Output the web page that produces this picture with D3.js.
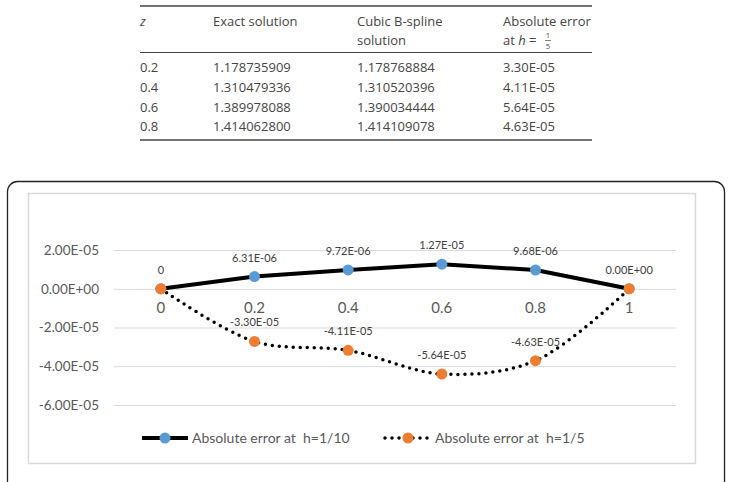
<!DOCTYPE html>
<html>
<head>
<meta charset="utf-8">
<script src="https://cdn.jsdelivr.net/npm/d3@7"></script>
<style>
  body { margin: 0; background: #fff; }
  text { white-space: pre; }
</style>
</head>
<body>
<div id="graph"></div>
<script>
// table data
const tableZ = ["0.2", "0.4", "0.6", "0.8"];
const exactSol = ["1.178735909", "1.310479336", "1.389978088", "1.414062800"];
const splineSol = ["1.178768884", "1.310520396", "1.390034444", "1.414109078"];
const absErr = ["3.30E-05", "4.11E-05", "5.64E-05", "4.63E-05"];

// chart data
const categories = ["0", "0.2", "0.4", "0.6", "0.8", "1"];
const errH10 = [0, 6.31e-6, 9.72e-6, 1.27e-5, 9.68e-6, 0];
const errH5 = [0, -2.72e-5, -3.18e-5, -4.4e-5, -3.71e-5, 0];
const labelsH10 = ["", "6.31E-06", "9.72E-06", "1.27E-05", "9.68E-06", "0.00E+00"];
const labelsH5 = ["0", "-3.30E-05", "-4.11E-05", "-5.64E-05", "-4.63E-05", ""];
const yTicks = [-6e-5, -4e-5, -2e-5, 0, 2e-5];

const blue = "#5b9bd5", orange = "#ed7d31";

const svg = d3.select("#graph").append("svg")
  .attr("width", 731).attr("height", 482);

//table
function drawTable() {
  const g = svg.append("g")
    .style("font-family", "'Open Sans', sans-serif")
    .style("font-size", "13px")
    .attr("fill", "#454545");
  const cols = [140, 213, 357, 503];
  g.append("line").attr("x1", 140).attr("x2", 592).attr("y1", 6).attr("y2", 6)
    .attr("stroke", "#444").attr("stroke-width", 1.3);
  g.append("line").attr("x1", 140).attr("x2", 592).attr("y1", 52.5).attr("y2", 52.5)
    .attr("stroke", "#444").attr("stroke-width", 1);
  g.append("line").attr("x1", 140).attr("x2", 592).attr("y1", 140).attr("y2", 140)
    .attr("stroke", "#444").attr("stroke-width", 1.3);

  g.append("text").attr("x", cols[0]).attr("y", 26).style("font-style", "italic").text("z");
  g.append("text").attr("x", cols[1]).attr("y", 26).text("Exact solution");
  g.append("text").attr("x", cols[2]).attr("y", 26).text("Cubic B-spline");
  g.append("text").attr("x", cols[2]).attr("y", 45).text("solution");
  g.append("text").attr("x", cols[3]).attr("y", 26).text("Absolute error");
  const t = g.append("text").attr("x", cols[3]).attr("y", 45);
  t.append("tspan").text("at ");
  t.append("tspan").style("font-style", "italic").text("h");
  t.append("tspan").text(" = ");
  // small stacked fraction 1/5
  g.append("text").attr("x", 548).attr("y", 38).attr("text-anchor", "middle")
    .style("font-size", "7.5px").text("1");
  g.append("line").attr("x1", 545).attr("x2", 551).attr("y1", 40.5).attr("y2", 40.5)
    .attr("stroke", "#454545").attr("stroke-width", 0.7);
  g.append("text").attr("x", 548).attr("y", 49).attr("text-anchor", "middle")
    .style("font-size", "7.5px").text("5");

  const rowY = [72, 92, 111.5, 131];
  const cells = [tableZ, exactSol, splineSol, absErr];
  cells.forEach(function (col, ci) {
    g.selectAll(null).data(col).enter().append("text")
      .attr("x", cols[ci])
      .attr("y", function (d, i) { return rowY[i]; })
      .text(function (d) { return d; });
  });
}

function fmtE(v) {
  if (v === 0) return "0.00E+00";
  const s = v.toExponential(2).toUpperCase();
  return s.replace(/E([+-])(\d)$/, "E$10$2");
}

function drawChart() {
  // frame
  svg.append("rect").attr("x", 7.5).attr("y", 181.5).attr("width", 717).attr("height", 320)
    .attr("rx", 10).attr("fill", "#fff").attr("stroke", "#222").attr("stroke-width", 1.3);
  svg.append("rect").attr("x", 28.5).attr("y", 193.5).attr("width", 667).attr("height", 270)
    .attr("fill", "#fff").attr("stroke", "#d9d9d9").attr("stroke-width", 1.5);

  const x = d3.scaleBand().domain(categories).range([114, 676]).padding(0);
  const cx = function (c) { return x(c) + x.bandwidth() / 2; };
  const y = d3.scaleLinear().domain([-6e-5, 2e-5]).range([405, 250]);

  const font = "Lato, 'Open Sans', sans-serif";

  // gridlines + y labels
  const yAxis = svg.append("g").attr("transform", "translate(114,0)")
    .call(d3.axisLeft(y).tickValues(yTicks).tickSize(-562).tickFormat(fmtE).tickPadding(15));
  yAxis.select(".domain").remove();
  yAxis.selectAll(".tick line").attr("stroke", "#d9d9d9").attr("stroke-width", 1);
  yAxis.selectAll(".tick text").attr("fill", "#595959")
    .style("font-family", font).style("font-size", "13.5px");

  // x labels, sitting under the zero line
  const xAxis = svg.append("g").attr("transform", "translate(0," + y(0) + ")")
    .call(d3.axisBottom(x).tickSize(0).tickPadding(14));
  xAxis.select(".domain").remove();
  xAxis.selectAll(".tick text").attr("fill", "#595959")
    .style("font-family", font).style("font-size", "15px");

  const line10 = d3.line()
    .x(function (d, i) { return cx(categories[i]); })
    .y(function (d) { return y(d); });
  const line5 = d3.line()
    .x(function (d, i) { return cx(categories[i]); })
    .y(function (d) { return y(d); })
    .curve(d3.curveCatmullRom.alpha(0.5));

  svg.append("path").datum(errH10).attr("d", line10)
    .attr("fill", "none").attr("stroke", "#000").attr("stroke-width", 4)
    .attr("stroke-linejoin", "round");
  svg.append("path").datum(errH5).attr("d", line5)
    .attr("fill", "none").attr("stroke", "#000").attr("stroke-width", 3.5)
    .attr("stroke-linecap", "round").attr("stroke-dasharray", "0 7");

  function markers(data, color) {
    svg.append("g").selectAll("circle").data(data).enter().append("circle")
      .attr("cx", function (d, i) { return cx(categories[i]); })
      .attr("cy", function (d) { return y(d); })
      .attr("r", 5.5).attr("fill", color);
  }
  markers(errH10, blue);
  markers(errH5, orange);

  function labels(data, texts) {
    svg.append("g").selectAll("text").data(data).enter().append("text")
      .attr("x", function (d, i) { return cx(categories[i]); })
      .attr("y", function (d) { return y(d) - 15; })
      .attr("text-anchor", "middle")
      .attr("fill", "#404040")
      .style("font-family", font).style("font-size", "11px")
      .text(function (d, i) { return texts[i]; });
  }
  labels(errH10, labelsH10);
  labels(errH5, labelsH5);

  // legend
  const ly = 438;
  svg.append("line").attr("x1", 142).attr("x2", 188).attr("y1", ly).attr("y2", ly)
    .attr("stroke", "#000").attr("stroke-width", 4);
  svg.append("circle").attr("cx", 165).attr("cy", ly).attr("r", 5.5).attr("fill", blue);
  svg.append("text").attr("x", 192).attr("y", ly + 5).attr("fill", "#595959")
    .style("font-family", font).style("font-size", "14px").text("Absolute error at  h=1/10");

  svg.append("line").attr("x1", 385).attr("x2", 429).attr("y1", ly).attr("y2", ly)
    .attr("stroke", "#000").attr("stroke-width", 3.5)
    .attr("stroke-linecap", "round").attr("stroke-dasharray", "0 7");
  svg.append("circle").attr("cx", 408).attr("cy", ly).attr("r", 5.5).attr("fill", orange);
  svg.append("text").attr("x", 435).attr("y", ly + 5).attr("fill", "#595959")
    .style("font-family", font).style("font-size", "14px").text("Absolute error at  h=1/5");
}

drawTable();
drawChart();
</script>
</body>
</html>
